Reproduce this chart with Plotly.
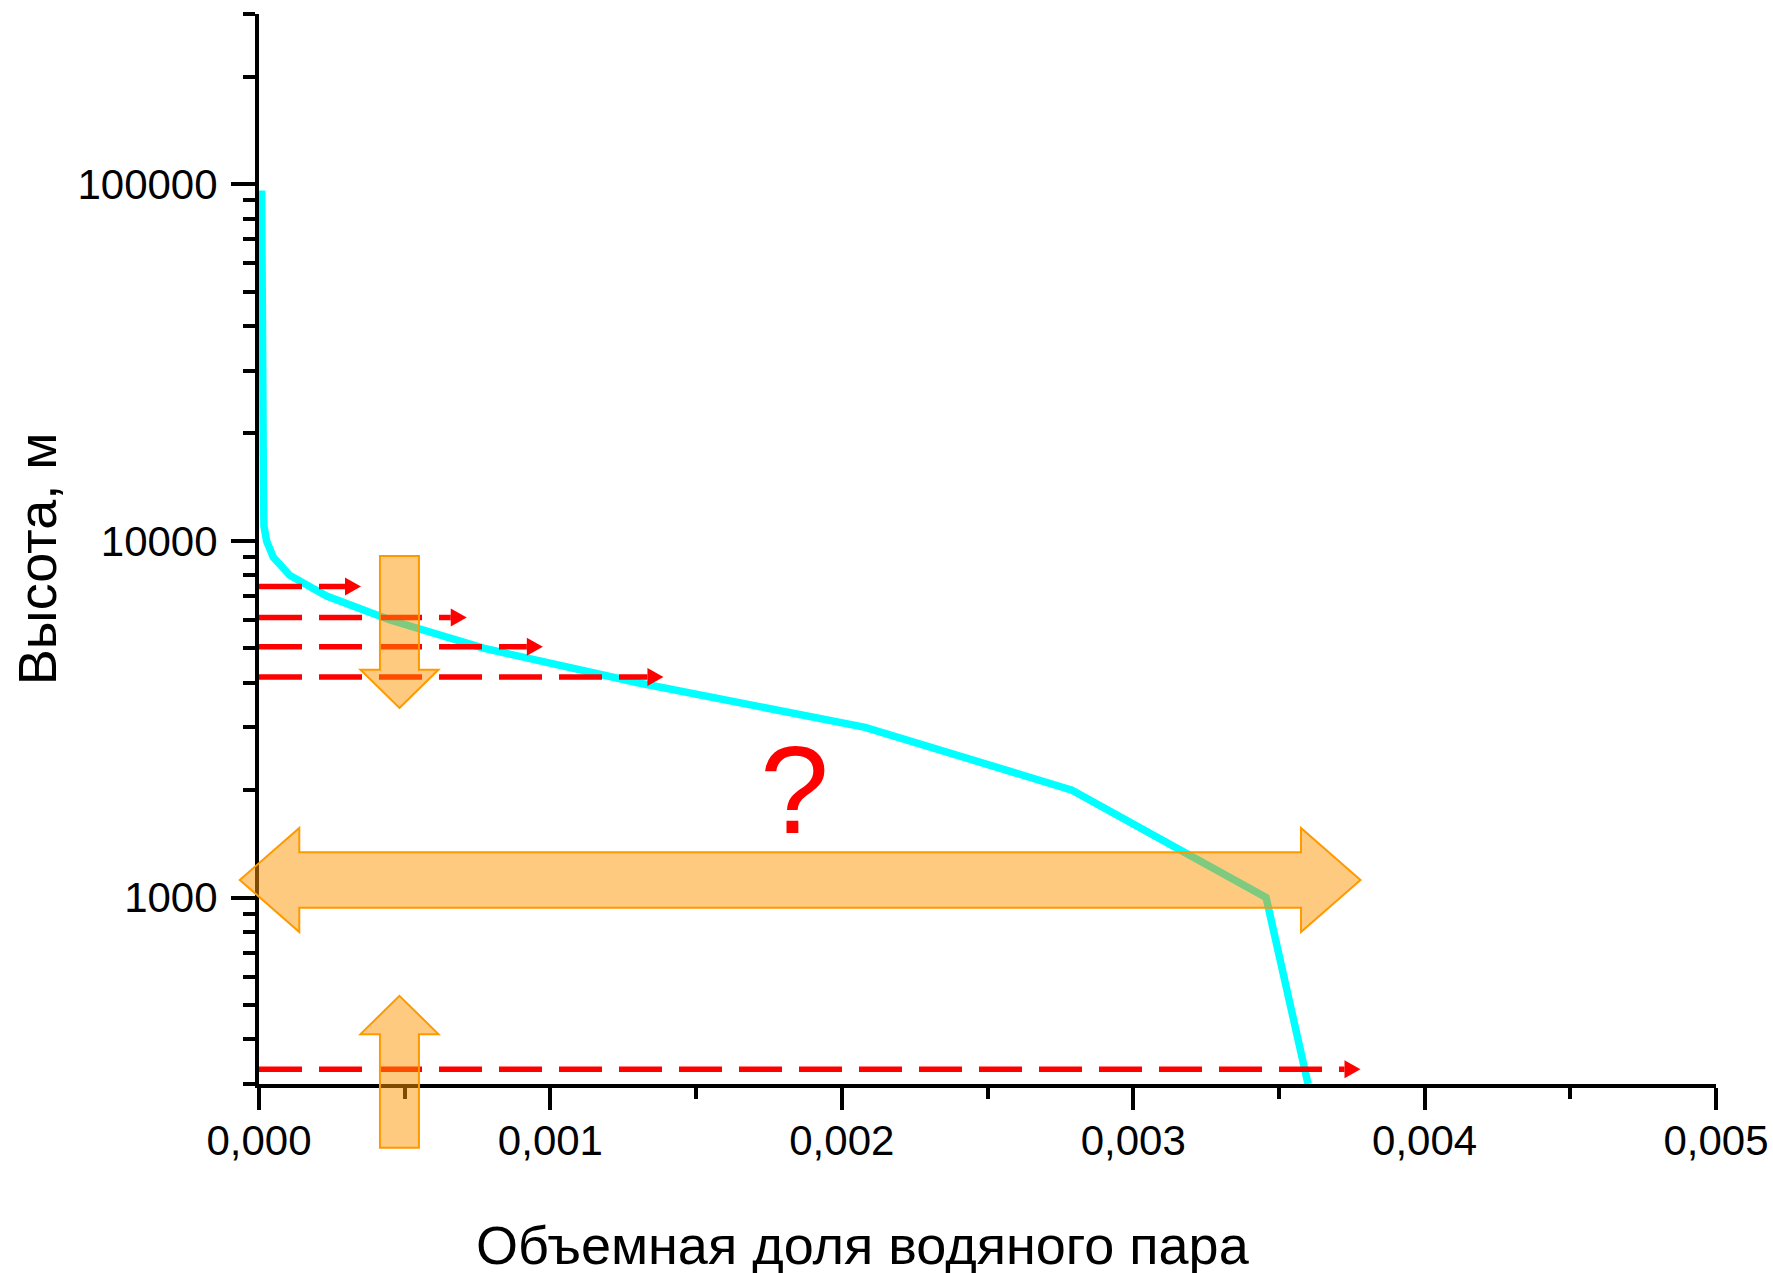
import math
import plotly.graph_objects as go

# Water vapour volume fraction vs. altitude profile
heights_m = [300, 1000, 2000, 3000, 4000, 5000, 6000, 7000, 8000, 9000,
             10000, 11000, 15000, 20000, 30000, 50000, 70000, 96000]
vapour_fraction = [0.00360, 0.003456, 0.00279, 0.00208, 0.00130, 0.00077,
                   0.00045, 0.000232, 0.000106, 0.000049, 0.000026,
                   0.000017, 0.000015, 0.000014, 0.000013, 0.000011,
                   0.000010, 0.000009]

# Axis ticks
x_tickvals = [0.000, 0.001, 0.002, 0.003, 0.004, 0.005]
x_ticktext = ["0,000", "0,001", "0,002", "0,003", "0,004", "0,005"]
x_minor_vals = [0.0005, 0.0015, 0.0025, 0.0035, 0.0045]
y_tickvals = [1000, 10000, 100000]
y_ticktext = ["1000", "10000", "100000"]
y_minor_vals = [300, 400, 500, 600, 700, 800, 900,
                2000, 3000, 4000, 5000, 6000, 7000, 8000, 9000,
                20000, 30000, 40000, 50000, 60000, 70000, 80000, 90000,
                200000, 300000]

# Red dashed "sounding" arrows: altitude and where each arrow ends
ray_heights = [7450, 6100, 5050, 4150, 330]
ray_ends = [0.00035, 0.000713, 0.000974, 0.001388, 0.00378]

# Orange arrows
band_height = 1120          # double arrow across the profile (m)
band_left, band_right = -0.000066, 0.00378
vert_x = 0.000482           # vertical arrows column
down_tip, up_tip = 3400, 530

X_RANGE = [0.0, 0.005]
Y_RANGE = [300, 300000]

W, H = 1773, 1273
ML, MR, MT, MB = 259, 57, 14, 189
PW, PH = W - ML - MR, H - MT - MB

FONT = "Liberation Sans, Arial, sans-serif"


def xp(v):
    return (v - X_RANGE[0]) / (X_RANGE[1] - X_RANGE[0])


def yp(h):
    lo, hi = math.log10(Y_RANGE[0]), math.log10(Y_RANGE[1])
    return (math.log10(h) - lo) / (hi - lo)


def dx(px):
    return px / PW


def dy(px):
    return px / PH


def path(points):
    return "M " + " L ".join(f"{x:.5f},{y:.5f}" for x, y in points) + " Z"


fig = go.Figure()
fig.add_trace(go.Scatter(
    x=vapour_fraction, y=heights_m, mode="lines",
    line=dict(color="#00FFFF", width=7.5),
    showlegend=False, hoverinfo="skip",
))

shapes = []
red = "#FF0000"
head_len, head_half = 16, 9
for h, xe in zip(ray_heights, ray_ends):
    y = yp(h)
    tip = xp(xe)
    shapes.append(dict(type="line", xref="paper", yref="paper",
                       x0=0, y0=y, x1=tip - dx(head_len), y1=y,
                       line=dict(color=red, width=5.5, dash="43px,17px"),
                       layer="above"))
    shapes.append(dict(type="path", xref="paper", yref="paper",
                       path=path([(tip, y),
                                  (tip - dx(head_len), y + dy(head_half)),
                                  (tip - dx(head_len), y - dy(head_half))]),
                       fillcolor=red, line=dict(width=0), layer="above"))

orange_fill = "rgba(251,149,0,0.5)"
orange_line = dict(color="#FF9900", width=2)

# Horizontal double-headed arrow
cy = yp(band_height)
xl, xr = xp(band_left), xp(band_right)
s, hh, L = dy(27.7), dy(52), dx(59.5)
shapes.append(dict(type="path", xref="paper", yref="paper",
                   path=path([(xl, cy), (xl + L, cy + hh), (xl + L, cy + s),
                              (xr - L, cy + s), (xr - L, cy + hh), (xr, cy),
                              (xr - L, cy - hh), (xr - L, cy - s),
                              (xl + L, cy - s), (xl + L, cy - hh)]),
                   fillcolor=orange_fill, line=orange_line, layer="above"))


def vertical_arrow(tip_h, direction):
    cx = xp(vert_x)
    ty = yp(tip_h)
    sw, hw = dx(19.5), dx(39)
    hb = ty - direction * dy(38.3)
    tail = ty - direction * dy(152)
    return dict(type="path", xref="paper", yref="paper",
                path=path([(cx, ty), (cx + hw, hb), (cx + sw, hb),
                           (cx + sw, tail), (cx - sw, tail), (cx - sw, hb),
                           (cx - hw, hb)]),
                fillcolor=orange_fill, line=orange_line, layer="above")


shapes.append(vertical_arrow(down_tip, -1))
shapes.append(vertical_arrow(up_tip, +1))

annotations = [
    dict(text="?", xref="paper", yref="paper", x=xp(0.001837), y=yp(2000),
         xanchor="center", yanchor="middle", showarrow=False,
         font=dict(family=FONT, size=124, color=red)),
    dict(text="Объемная доля водяного пара", xref="paper", yref="paper",
         x=(862.5 - ML) / PW, y=-0.150, xanchor="center", yanchor="middle",
         showarrow=False, font=dict(family=FONT, size=54, color="black")),
    dict(text="Высота, м", xref="paper", yref="paper",
         x=(37 - ML) / PW, y=0.4905, xanchor="center", yanchor="middle",
         textangle=-90, showarrow=False,
         font=dict(family=FONT, size=54, color="black")),
]

axis_common = dict(
    showgrid=False, zeroline=False, showline=True, linecolor="black",
    linewidth=4, ticks="outside", tickcolor="black", tickwidth=3.5,
    tickfont=dict(family=FONT, size=42, color="black"),
)

fig.update_layout(
    width=W, height=H,
    margin=dict(l=ML, r=MR, t=MT, b=MB, autoexpand=False),
    paper_bgcolor="white", plot_bgcolor="rgba(0,0,0,0)",
    font=dict(family=FONT, color="black"),
    xaxis=dict(range=X_RANGE, tickmode="array", tickvals=x_tickvals,
               ticktext=x_ticktext, ticklen=22, ticklabelstandoff=-5,
               minor=dict(tickmode="array", tickvals=x_minor_vals,
                          ticks="outside", ticklen=11, tickwidth=3.5,
                          tickcolor="black", showgrid=False),
               **axis_common),
    yaxis=dict(type="log",
               range=[math.log10(Y_RANGE[0]), math.log10(Y_RANGE[1])],
               tickmode="array", tickvals=y_tickvals, ticktext=y_ticktext,
               ticklen=24, ticklabelstandoff=5,
               minor=dict(tickmode="array", tickvals=y_minor_vals,
                          ticks="outside", ticklen=12, tickwidth=3.5,
                          tickcolor="black", showgrid=False),
               **axis_common),
    shapes=shapes,
    annotations=annotations,
    showlegend=False,
)

fig.write_html("out.html")
